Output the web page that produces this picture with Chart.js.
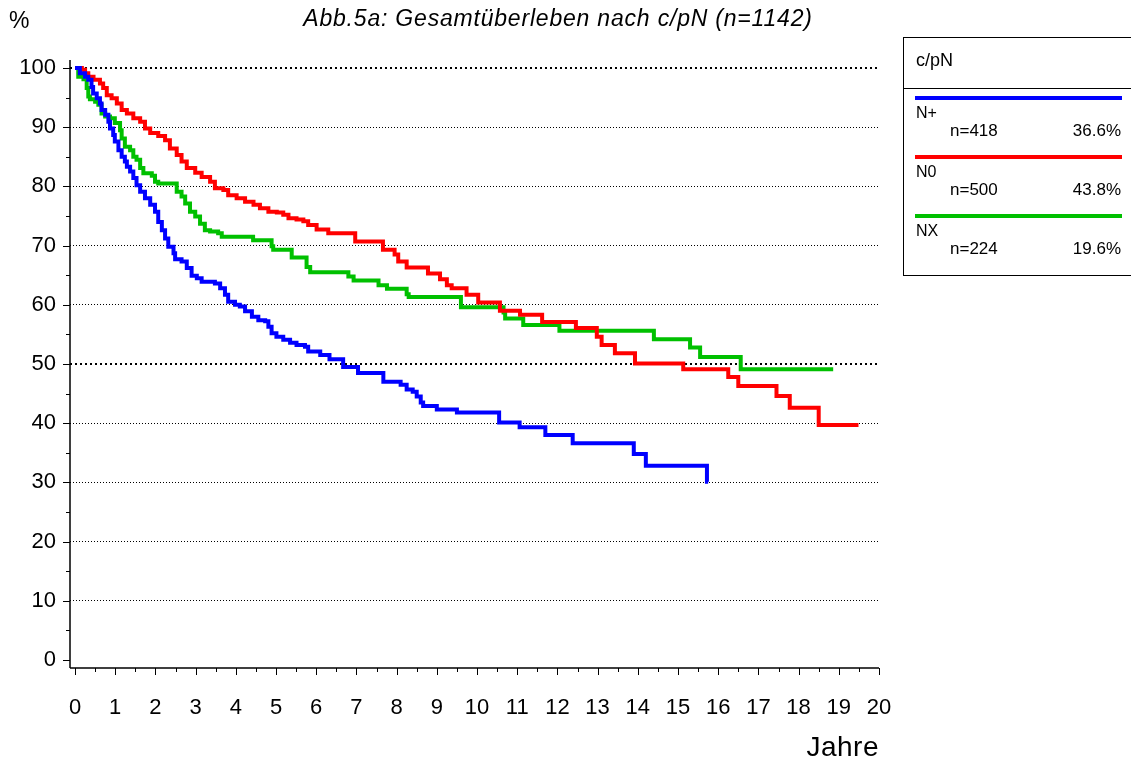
<!DOCTYPE html>
<html lang="de">
<head>
<meta charset="utf-8">
<title>Abb.5a: Gesamtüberleben nach c/pN</title>
<script src="https://cdn.jsdelivr.net/npm/chart.js"></script>
<style>
    body { margin: 0; background: #fff; }
    #wrap { position: relative; width: 1131px; height: 765px; font-family: "Liberation Sans", Arial, sans-serif; color: #000; }
    #wrap canvas { position: absolute; left: 0; top: 0; }
    .lbl { position: absolute; white-space: nowrap; }
    #pct { left: 9px; top: 7px; font-size: 23px; }
    #title { left: 558px; top: 5px; transform: translateX(-50%); font-size: 23px; font-style: italic; letter-spacing: 0.8px; }
    #jahre { right: 252px; top: 731px; font-size: 28px; letter-spacing: 0.5px; }
    #legend { position: absolute; left: 903px; top: 37px; width: 240px; height: 239px; border: 1px solid #000; box-sizing: border-box; }
    #legend .head { height: 51px; border-bottom: 1px solid #000; font-size: 18px; padding: 12px 0 0 12px; box-sizing: border-box; }
    #legend .item { position: relative; height: 59px; }
    #legend .line { position: absolute; left: 11px; width: 207px; top: 7px; height: 4px; }
    #legend .name { position: absolute; left: 12px; top: 15px; font-size: 16px; }
    #legend .n { position: absolute; left: 46px; top: 32px; font-size: 17px; }
    #legend .p { position: absolute; left: 140px; width: 77px; text-align: right; top: 32px; font-size: 17px; }
</style>
</head>
<body>
<div id="wrap">
    <canvas id="survChart" width="1131" height="765"></canvas>
    <div class="lbl" id="pct">%</div>
    <div class="lbl" id="title">Abb.5a: Gesamtüberleben nach c/pN (n=1142)</div>
    <div class="lbl" id="jahre">Jahre</div>
    <div id="legend">
        <div class="head">c/pN</div>
    </div>
</div>
<script>
'use strict';

// Gruppen
const groups = ['N+', 'N0', 'NX'];
const groupN = [418, 500, 224];
const groupPct = ['36.6%', '43.8%', '19.6%'];
const groupColors = ['#0000ff', '#ff0000', '#00c000'];

// N+ (Jahre / Überleben %)
const nPlusTimes = [0, 0.12, 0.25, 0.33, 0.41, 0.45, 0.54, 0.62, 0.66, 0.75, 0.83, 0.87, 0.95, 0.99, 1.08,
    1.16, 1.24, 1.29, 1.37, 1.45, 1.53, 1.62, 1.74, 1.87, 1.99, 2.07, 2.16, 2.24, 2.32, 2.45, 2.49, 2.65,
    2.78, 2.90, 3.03, 3.15, 3.48, 3.61, 3.73, 3.81, 3.98, 4.10, 4.23, 4.40, 4.56, 4.73, 4.81, 4.89, 5.01,
    5.18, 5.35, 5.51, 5.72, 5.80, 6.10, 6.33, 6.67, 7.04, 7.67, 8.10, 8.25, 8.40, 8.50, 8.60, 8.66, 9.00,
    9.50, 10.55, 11.06, 11.70, 12.38, 13.90, 14.20, 15.72, 15.75];
const nPlusSurv = [100, 99.1, 98.5, 98.0, 96.8, 95.7, 94.9, 94.0, 92.9, 92.1, 90.9, 89.8, 88.7, 87.6, 86.1,
    85.0, 84.2, 83.3, 82.5, 81.4, 80.2, 79.1, 78.0, 76.9, 75.7, 74.0, 72.6, 71.2, 69.8, 68.7, 67.7, 67.3,
    66.2, 64.9, 64.5, 63.9, 63.6, 62.8, 61.7, 60.5, 60.0, 59.7, 58.9, 58.0, 57.4, 57.2, 56.3, 55.2, 54.6,
    54.1, 53.6, 53.2, 52.9, 52.1, 51.5, 50.8, 49.5, 48.5, 47.0, 46.5, 45.7, 45.3, 44.5, 43.5, 42.9, 42.3,
    41.8, 40.1, 39.3, 38.0, 36.6, 34.8, 32.8, 30.1, 30.1];

// N0
const nNullTimes = [0, 0.17, 0.25, 0.33, 0.46, 0.62, 0.70, 0.79, 0.91, 1.04, 1.16, 1.29, 1.45, 1.62, 1.74,
    1.87, 2.07, 2.24, 2.36, 2.53, 2.65, 2.78, 2.99, 3.15, 3.36, 3.48, 3.69, 3.81, 4.02, 4.23, 4.44, 4.60,
    4.81, 5.02, 5.18, 5.31, 5.51, 5.68, 5.80, 6.01, 6.30, 6.97, 7.66, 7.95, 8.04, 8.25, 8.78, 9.08, 9.25,
    9.37, 9.74, 10.03, 10.57, 11.07, 11.62, 12.46, 12.98, 13.10, 13.43, 13.93, 15.13, 16.25, 16.50, 17.45,
    17.78, 18.50, 19.49];
const nNullSurv = [100, 99.7, 99.1, 98.5, 98.0, 97.4, 96.6, 95.4, 94.9, 94.0, 92.9, 92.3, 91.5, 90.9, 89.8,
    89.0, 88.5, 87.8, 86.4, 85.3, 84.2, 83.1, 82.3, 81.6, 80.8, 79.7, 79.4, 78.5, 78.0, 77.4, 76.9, 76.3,
    75.7, 75.6, 75.2, 74.6, 74.4, 74.1, 73.5, 72.7, 72.1, 70.7, 69.3, 68.5, 67.3, 66.3, 65.3, 64.3, 63.3,
    62.8, 61.7, 60.4, 59.0, 58.3, 57.1, 56.1, 54.6, 53.2, 51.8, 50.1, 49.1, 47.8, 46.3, 44.6,
    42.6, 39.7, 39.7];

// NX
const nxTimes = [0, 0.08, 0.21, 0.29, 0.33, 0.37, 0.50, 0.58, 0.66, 0.75, 0.87, 0.99, 1.12, 1.16, 1.24,
    1.37, 1.45, 1.53, 1.62, 1.70, 1.91, 1.99, 2.07, 2.53, 2.65, 2.74, 2.86, 2.99, 3.11, 3.23, 3.36, 3.56,
    3.65, 4.43, 4.89, 4.93, 5.39, 5.76, 5.85, 6.80, 6.93, 7.55, 7.76, 8.25, 8.30, 9.60, 10.66, 10.70,
    11.15, 12.05, 14.40, 15.30, 15.55, 16.56, 18.86];
const nxSurv = [100, 98.5, 98.1, 96.6, 95.2, 94.7, 94.3, 93.8, 92.3, 91.8, 91.5, 90.7, 89.5, 88.1, 86.7,
    86.1, 85.0, 84.5, 83.1, 82.2, 81.8, 80.8, 80.5, 79.1, 78.3, 77.1, 75.7, 74.9, 73.7, 72.6, 72.4, 72.1,
    71.5, 70.9, 69.9, 69.3, 68.0, 66.4, 65.5, 64.8, 64.1, 63.3, 62.7, 61.8, 61.3, 59.6, 58.7, 57.7,
    56.6, 55.6, 54.2, 52.8, 51.2, 49.1, 49.1];

// Achsen-Ticks
const yearTicks = [];
for (let t = 0; t <= 20; t += 0.5) yearTicks.push(t);
const percentTicks = [];
for (let p = 0; p <= 100; p += 5) percentTicks.push(p);

function toPoints(times, surv) {
    return times.map((t, i) => ({ x: t, y: surv[i] }));
}

// Legende (HTML)
const legendEl = document.getElementById('legend');
groups.forEach((g, i) => {
    const item = document.createElement('div');
    item.className = 'item';
    item.innerHTML = `<div class="line" style="background:${groupColors[i]}"></div>` +
        `<div class="name">${g}</div><div class="n">n=${groupN[i]}</div><div class="p">${groupPct[i]}</div>`;
    legendEl.appendChild(item);
});

// Achsenlinien und Striche
const axisPlugin = {
    id: 'survAxes',
    afterDraw: (chart) => {
        const ctx = chart.ctx;
        const area = chart.chartArea;
        const xs = chart.scales.x;
        const ys = chart.scales.y;
        ctx.save();
        ctx.strokeStyle = '#000';
        ctx.lineWidth = 1.5;
        ctx.beginPath();
        ctx.moveTo(area.left, area.top);
        ctx.lineTo(area.left, area.bottom);
        ctx.moveTo(area.left, area.bottom);
        ctx.lineTo(area.right, area.bottom);
        ctx.stroke();
        ctx.lineWidth = 1;
        ctx.beginPath();
        percentTicks.forEach(p => {
            const y = Math.round(ys.getPixelForValue(p)) + 0.5;
            const len = p % 10 === 0 ? 7 : 4;
            ctx.moveTo(area.left - len, y);
            ctx.lineTo(area.left, y);
        });
        yearTicks.forEach(t => {
            const x = Math.round(xs.getPixelForValue(t)) + 0.5;
            const len = Number.isInteger(t) ? 7 : 4;
            ctx.moveTo(x, area.bottom);
            ctx.lineTo(x, area.bottom + len);
        });
        ctx.stroke();
        ctx.restore();
    }
};

const tickFont = { family: '"Liberation Sans", Arial, sans-serif', size: 22 };

const ctx = document.getElementById('survChart').getContext('2d');
new Chart(ctx, {
    type: 'line',
    data: {
        datasets: [
            { label: groups[0], data: toPoints(nPlusTimes, nPlusSurv), borderColor: groupColors[0] },
            { label: groups[1], data: toPoints(nNullTimes, nNullSurv), borderColor: groupColors[1] },
            { label: groups[2], data: toPoints(nxTimes, nxSurv), borderColor: groupColors[2] }
        ]
    },
    options: {
        responsive: false,
        animation: false,
        datasets: {
            line: { stepped: true, borderWidth: 4, pointRadius: 0, fill: false, tension: 0 }
        },
        layout: { padding: { left: 0, top: 60, right: 252, bottom: 0 } },
        scales: {
            x: {
                type: 'linear',
                min: -0.125,
                max: 20,
                afterFit: (scale) => { scale.height = 97; },
                afterBuildTicks: (scale) => { scale.ticks = yearTicks.map(v => ({ value: v })); },
                ticks: {
                    autoSkip: false,
                    maxRotation: 0,
                    padding: 19,
                    color: '#000',
                    font: tickFont,
                    callback: (value) => Number.isInteger(value) ? String(value) : ''
                },
                grid: { display: false },
                border: { display: false }
            },
            y: {
                type: 'linear',
                min: -1.35,
                max: 101.35,
                afterFit: (scale) => { scale.width = 70; },
                afterBuildTicks: (scale) => { scale.ticks = percentTicks.map(v => ({ value: v })); },
                ticks: {
                    autoSkip: false,
                    padding: 14,
                    color: '#000',
                    font: tickFont,
                    callback: (value) => value % 10 === 0 ? String(value) : ''
                },
                grid: {
                    drawTicks: false,
                    color: (c) => (c.tick && c.tick.value % 10 === 0 && c.tick.value > 0) ? '#000' : 'rgba(0,0,0,0)',
                    lineWidth: (c) => (c.tick && (c.tick.value === 50 || c.tick.value === 100)) ? 2 : 1
                },
                border: {
                    display: false,
                    dash: (c) => (c.tick && (c.tick.value === 50 || c.tick.value === 100)) ? [2, 3] : [1, 2]
                }
            }
        },
        plugins: {
            legend: { display: false },
            tooltip: { enabled: false }
        }
    },
    plugins: [axisPlugin]
});
</script>
</body>
</html>
